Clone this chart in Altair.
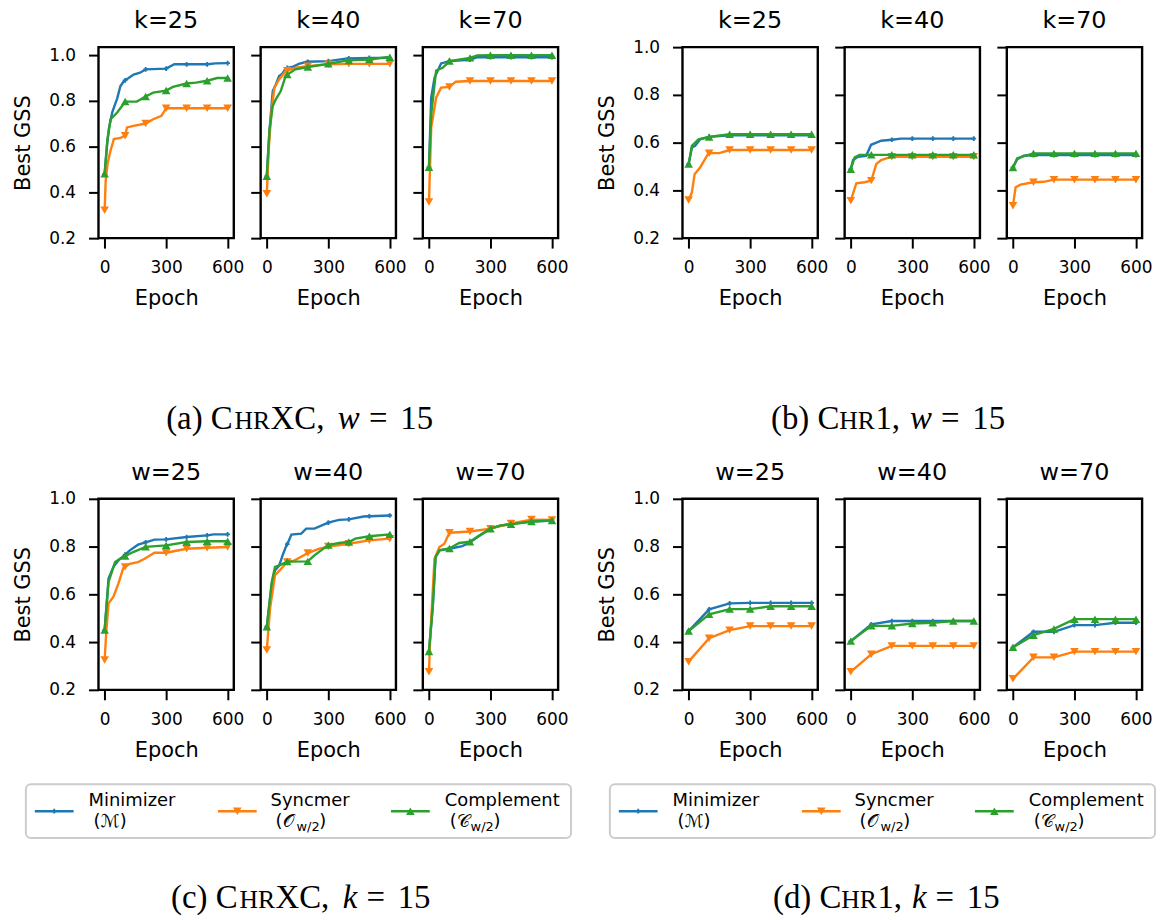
import altair as alt
import pandas as pd

SERIES = ["Minimizer", "Syncmer", "Complement"]
COLORS = {"Minimizer": "#1f77b4", "Syncmer": "#ff7f0e", "Complement": "#2ca02c"}
SHAPES = {"Minimizer": "cross", "Syncmer": "triangle-down", "Complement": "triangle-up"}
SIZES = {"Minimizer": 22, "Syncmer": 75, "Complement": 75}

EPOCH_TICKS = [0, 300, 600]
GSS_TICKS = [0.2, 0.4, 0.6, 0.8, 1.0]

# ---- (a) ChrXC, w = 15, varying k : (epoch, best GSS) ----
a_k25_min = [(0, .481), (13, .62), (21, .68), (37, .75), (53, .79), (61, .81), (77, .865), (93, .885),
             (100, .89), (117, .90), (141, .915), (173, .923), (200, .938), (300, .941), (340, .96),
             (400, .96), (500, .96), (540, .964), (600, .965)]
a_k25_syn = [(0, .322), (5, .45), (15, .53), (29, .583), (45, .633), (77, .638), (100, .648), (109, .684),
             (141, .691), (200, .701), (237, .72), (277, .735), (300, .768), (400, .768), (500, .768),
             (600, .768)]
a_k25_com = [(0, .481), (13, .626), (29, .72), (61, .749), (85, .778), (100, .797), (157, .797),
             (200, .819), (237, .836), (300, .845), (333, .861), (400, .876), (445, .88), (500, .888),
             (549, .90), (600, .90)]

a_k40_min = [(0, .471), (13, .67), (29, .843), (44, .872), (60, .909), (76, .919), (92, .942), (100, .944),
             (124, .948), (156, .962), (195, .971), (200, .971), (300, .974), (394, .986), (400, .986),
             (500, .988), (600, .988)]
a_k40_syn = [(0, .394), (10, .597), (21, .742), (37, .858), (60, .894), (92, .93), (100, .932),
             (140, .945), (200, .952), (300, .96), (400, .962), (500, .962), (600, .962)]
a_k40_com = [(0, .471), (13, .67), (29, .778), (44, .807), (68, .843), (92, .909), (100, .915),
             (140, .938), (200, .948), (300, .962), (394, .977), (400, .977), (500, .981), (584, .991),
             (600, .991)]

a_k70_min = [(0, .51), (11, .814), (27, .901), (59, .964), (100, .974), (200, .98), (236, .991),
             (300, .991), (400, .991), (500, .991), (600, .991)]
a_k70_syn = [(0, .358), (11, .684), (35, .814), (59, .858), (100, .861), (131, .884), (200, .887),
             (300, .887), (400, .887), (500, .887), (600, .887)]
a_k70_com = [(0, .51), (11, .742), (35, .933), (67, .945), (100, .974), (200, .988), (236, .999),
             (300, 1.0), (400, 1.0), (500, 1.0), (600, 1.0)]

# ---- (b) Chr1, w = 15, varying k ----
b_k25_min = [(0, .51), (16, .58), (32, .587), (56, .614), (100, .624), (200, .631), (300, .631),
             (400, .631), (500, .631), (600, .631)]
b_k25_syn = [(0, .36), (16, .392), (29, .468), (56, .496), (96, .555), (100, .556), (150, .556),
             (200, .569), (300, .569), (400, .569), (500, .569), (600, .569)]
b_k25_com = [(0, .51), (16, .587), (48, .614), (100, .624), (200, .635), (300, .635), (400, .635),
             (500, .635), (600, .635)]

b_k40_min = [(0, .489), (11, .527), (35, .541), (75, .545), (99, .591), (148, .608), (200, .612),
             (244, .617), (300, .617), (400, .617), (500, .617), (600, .617)]
b_k40_syn = [(0, .357), (27, .43), (67, .434), (100, .441), (124, .51), (148, .527), (200, .541),
             (300, .541), (400, .541), (500, .541), (600, .541)]
b_k40_com = [(0, .489), (19, .538), (43, .549), (100, .549), (200, .549), (300, .549), (400, .549),
             (500, .549), (600, .549)]

b_k70_min = [(0, .496), (21, .531), (53, .545), (100, .548), (200, .548), (300, .548), (400, .548),
             (500, .548), (600, .548)]
b_k70_syn = [(0, .336), (13, .413), (37, .424), (100, .434), (150, .436), (200, .445), (300, .445),
             (400, .445), (500, .445), (600, .445)]
b_k70_com = [(0, .496), (21, .535), (100, .555), (200, .555), (300, .555), (400, .555), (500, .555),
             (600, .555)]

# ---- (c) ChrXC, k = 15, varying w ----
c_w25_min = [(0, .45), (19, .666), (43, .715), (67, .742), (100, .766), (123, .784), (163, .808),
             (200, .818), (243, .829), (300, .83), (400, .84), (500, .847), (531, .851), (600, .851)]
c_w25_syn = [(0, .325), (8, .443), (19, .562), (43, .59), (67, .645), (91, .71), (100, .715), (123, .728),
             (163, .735), (195, .749), (243, .774), (300, .774), (400, .791), (500, .795), (600, .798)]
c_w25_com = [(0, .45), (19, .652), (51, .735), (75, .749), (100, .76), (139, .777), (200, .799),
             (300, .805), (400, .819), (500, .822), (600, .822)]

c_w40_min = [(0, .464), (24, .64), (40, .70), (60, .72), (80, .77), (96, .805), (100, .81), (120, .85),
             (168, .854), (192, .875), (232, .875), (300, .90), (352, .912), (400, .914), (472, .926),
             (500, .927), (600, .93)]
c_w40_syn = [(0, .367), (16, .541), (40, .68), (64, .701), (96, .733), (100, .735), (136, .742),
             (200, .773), (256, .791), (300, .80), (400, .812), (500, .826), (600, .833)]
c_w40_com = [(0, .464), (24, .652), (40, .715), (64, .722), (100, .737), (200, .738), (232, .763),
             (300, .806), (352, .815), (400, .819), (432, .833), (500, .843), (600, .851)]

c_w70_min = [(0, .36), (19, .555), (32, .756), (51, .784), (100, .791), (163, .802), (200, .818),
             (243, .843), (300, .875), (347, .888), (400, .895), (500, .905), (600, .909)]
c_w70_syn = [(0, .276), (6, .416), (27, .749), (51, .798), (75, .812), (100, .858), (200, .863),
             (300, .875), (400, .897), (500, .913), (600, .911)]
c_w70_com = [(0, .36), (19, .555), (32, .756), (51, .784), (100, .792), (147, .815), (200, .82),
             (243, .845), (300, .875), (347, .888), (400, .893), (500, .905), (600, .909)]

# ---- (d) Chr1, k = 15, varying w (evaluated every 100 epochs) ----
D_EPOCHS = [0, 100, 200, 300, 400, 500, 600]
d_w25_min = [.446, .537, .562, .564, .564, .564, .564]
d_w25_syn = [.318, .416, .45, .467, .467, .467, .467]
d_w25_com = [.446, .516, .538, .538, .55, .55, .55]
d_w40_min = [.404, .474, .488, .488, .488, .488, .488]
d_w40_syn = [.276, .349, .384, .384, .384, .384, .384]
d_w40_com = [.404, .468, .468, .478, .481, .488, .488]
d_w70_min = [.378, .443, .443, .471, .471, .481, .481]
d_w70_syn = [.246, .336, .336, .36, .36, .36, .36]
d_w70_com = [.378, .429, .455, .496, .496, .496, .496]

# legend text
LEGEND_NAMES = SERIES
LEGEND_SYMBOLS = ["(ℳ)", "(𝒪", "(𝒞"]
LEGEND_SUBS = ["", "w/2", "w/2"]

PANEL_W, PANEL_H = 136, 192
FONT = "DejaVu Sans"
SERIF = "Liberation Serif"
LINE_W = 2.4


def to_frame(by_series):
    rows = []
    for s in SERIES:
        for e, v in by_series[s]:
            rows.append({"series": s, "epoch": e, "gss": v})
    return pd.DataFrame(rows)


def one_row(text):
    return pd.DataFrame({"t": [text]})


def panel_title(text):
    return alt.Chart(one_row(text)).mark_text(
        align="center", baseline="alphabetic", font=FONT, fontSize=24, color="black"
    ).encode(text="t:N", x=alt.value(PANEL_W / 2), y=alt.value(-19))


def panel(title, by_series, y_top, first, extras=()):
    df = to_frame(by_series)
    x = alt.X("epoch:Q", scale=alt.Scale(domain=[-30, 630], nice=False, zero=False),
              axis=alt.Axis(values=EPOCH_TICKS, title="Epoch"))
    if first:
        y_axis = alt.Axis(values=GSS_TICKS, format=".1f", title="Best GSS")
    else:
        y_axis = alt.Axis(values=GSS_TICKS, labels=False, title="")
    y = alt.Y("gss:Q", scale=alt.Scale(domain=[0.2, y_top], nice=False, zero=False), axis=y_axis)
    base = alt.Chart(df)
    layers = []
    for s in SERIES:
        sel = base.transform_filter(alt.datum.series == s)
        layers.append(sel.mark_line(color=COLORS[s], strokeWidth=LINE_W).encode(x=x, y=y))
        layers.append(
            sel.transform_filter("datum.epoch % 100 == 0")
            .mark_point(shape=SHAPES[s], filled=True, size=SIZES[s], color=COLORS[s], opacity=1)
            .encode(x=x, y=y)
        )
    return alt.layer(*layers, panel_title(title), *extras).properties(width=PANEL_W, height=PANEL_H)


def legend_layers():
    box = alt.Chart(one_row("")).mark_rect(
        fill="white", stroke="#cccccc", strokeWidth=2, cornerRadius=5
    ).encode(x=alt.value(-73), x2=alt.value(475), y=alt.value(287), y2=alt.value(341))
    layers = [box]
    handle_x = [-64, 120, 294]
    text_x = [-10, 173, 348]
    for i, s in enumerate(LEGEND_NAMES):
        hx = handle_x[i]
        layers.append(alt.Chart(one_row(s)).mark_rule(color=COLORS[s], strokeWidth=LINE_W).encode(
            x=alt.value(hx), x2=alt.value(hx + 39), y=alt.value(314)))
        layers.append(alt.Chart(one_row(s)).mark_point(
            shape=SHAPES[s], filled=True, size=SIZES[s], color=COLORS[s], opacity=1
        ).encode(x=alt.value(hx + 19.5), y=alt.value(314)))
        layers.append(alt.Chart(one_row(s)).mark_text(
            align="left", baseline="alphabetic", font=FONT, fontSize=18, color="black"
        ).encode(text="t:N", x=alt.value(text_x[i]), y=alt.value(309)))
        sx = text_x[i] + 5
        layers.append(alt.Chart(one_row(LEGEND_SYMBOLS[i])).mark_text(
            align="left", baseline="alphabetic", font=FONT, fontSize=18, color="black"
        ).encode(text="t:N", x=alt.value(sx), y=alt.value(330)))
        if LEGEND_SUBS[i]:
            layers.append(alt.Chart(one_row(LEGEND_SUBS[i])).mark_text(
                align="left", baseline="alphabetic", font=FONT, fontSize=13, color="black"
            ).encode(text="t:N", x=alt.value(sx + 21), y=alt.value(334)))
            layers.append(alt.Chart(one_row(")")).mark_text(
                align="left", baseline="alphabetic", font=FONT, fontSize=18, color="black"
            ).encode(text="t:N", x=alt.value(sx + 44), y=alt.value(330)))
    return layers


CAP_SIZE = 33


def caption_layers(parts, x0, y0):
    # parts: (text, relative size, italic, advance in em of CAP_SIZE)
    layers = []
    x = x0
    for text, rel, italic, adv in parts:
        layers.append(alt.Chart(one_row(text)).mark_text(
            align="left", baseline="alphabetic", font=SERIF, fontSize=CAP_SIZE * rel,
            fontStyle="italic" if italic else "normal", color="black"
        ).encode(text="t:N", x=alt.value(x), y=alt.value(y0)))
        x += adv * CAP_SIZE
    return layers


def caption(label, dataset_tail, tail_adv, var, var_adv):
    return [
        (f"({label}) C", 1.0, False, 2.08),
        ("HR", 0.78, False, 1.10),
        (dataset_tail, 1.0, False, tail_adv),
        (var, 1.0, True, var_adv),
        ("=", 1.0, False, 0.95),
        ("15", 1.0, False, 1.0),
    ]


# caption anchors are relative to the middle panel of each group
cap_a = caption_layers(caption("a", "XC,", 2.05, "w", 0.95), -95, 384)
cap_b = caption_layers(caption("b", "1,", 1.05, "w", 0.95), -74, 384)
cap_c = caption_layers(caption("c", "XC,", 2.05, "k", 0.72), -90, 411)
cap_d = caption_layers(caption("d", "1,", 1.05, "k", 0.72), -72, 411)

# transparent anchor fixing the figure's top-left corner relative to the first panel
anchor = alt.Chart(one_row("")).mark_rect(opacity=0).encode(
    x=alt.value(-97), x2=alt.value(0), y=alt.value(-43), y2=alt.value(0))


def trio(a, b, c):
    return {"Minimizer": a, "Syncmer": b, "Complement": c}


def d_trio(a, b, c):
    return trio(list(zip(D_EPOCHS, a)), list(zip(D_EPOCHS, b)), list(zip(D_EPOCHS, c)))


def spacer():
    return alt.Chart(one_row("")).mark_point(opacity=0).encode(
        x=alt.value(0), y=alt.value(0)
    ).properties(width=71, height=PANEL_H, view=alt.ViewBackground(strokeOpacity=0))


YA = 1.035
row1 = [
    panel("k=25", trio(a_k25_min, a_k25_syn, a_k25_com), YA, True, [anchor]),
    panel("k=40", trio(a_k40_min, a_k40_syn, a_k40_com), YA, False, cap_a),
    panel("k=70", trio(a_k70_min, a_k70_syn, a_k70_com), YA, False),
    spacer(),
    panel("k=25", trio(b_k25_min, b_k25_syn, b_k25_com), 1.0, True),
    panel("k=40", trio(b_k40_min, b_k40_syn, b_k40_com), 1.0, False, cap_b),
    panel("k=70", trio(b_k70_min, b_k70_syn, b_k70_com), 1.0, False),
]
row2 = [
    panel("w=25", trio(c_w25_min, c_w25_syn, c_w25_com), 1.0, True, legend_layers()),
    panel("w=40", trio(c_w40_min, c_w40_syn, c_w40_com), 1.0, False, cap_c),
    panel("w=70", trio(c_w70_min, c_w70_syn, c_w70_com), 1.0, False),
    spacer(),
    panel("w=25", d_trio(d_w25_min, d_w25_syn, d_w25_com), 1.0, True, legend_layers()),
    panel("w=40", d_trio(d_w40_min, d_w40_syn, d_w40_com), 1.0, False, cap_d),
    panel("w=70", d_trio(d_w70_min, d_w70_syn, d_w70_com), 1.0, False),
]

chart = alt.concat(
    *row1, *row2, columns=7, spacing={"row": 262, "column": 27}, bounds="flush", align="each"
).properties(
    padding={"left": 0, "top": 0, "right": 5, "bottom": 5}, background="white"
).configure_view(
    stroke="black", strokeWidth=LINE_W
).configure_axis(
    grid=False, domain=False, tickColor="black", tickWidth=2, tickSize=10,
    labelFont=FONT, labelFontSize=17, labelColor="black",
    titleFont=FONT, titleFontSize=21, titleFontWeight="normal", titleColor="black",
).configure_axisX(
    labelPadding=12, titlePadding=12
).configure_axisY(
    labelPadding=13, titlePadding=15
)

chart.save("out.html", embed_options={"renderer": "svg", "actions": False})
